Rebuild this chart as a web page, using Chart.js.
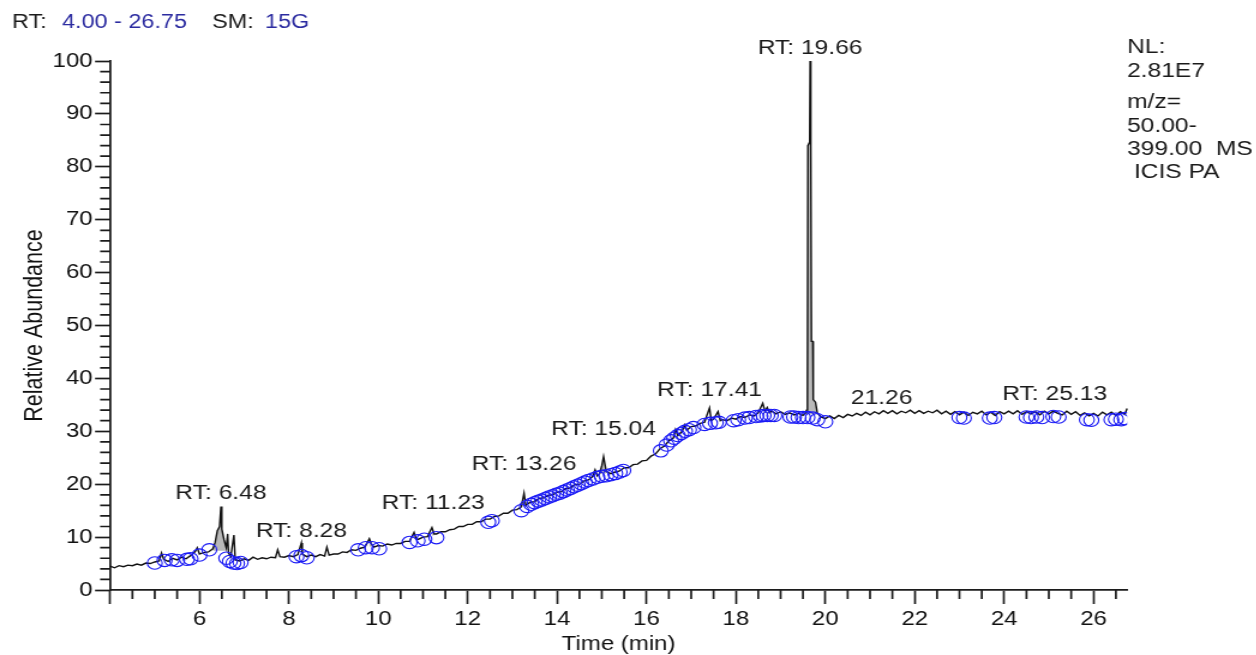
<!DOCTYPE html>
<html>
<head>
<meta charset="utf-8">
<script src="https://cdn.jsdelivr.net/npm/chart.js@4.4.1/dist/chart.umd.min.js"></script>
<style>
  html, body { margin: 0; padding: 0; background: #fff; overflow: hidden; }
  /* the original picture is stretched sideways, so the whole canvas is too */
  #wrap { width: 1047px; height: 655px; transform: scaleX(1.2); transform-origin: 0 0; }
</style>
</head>
<body>
<div id="wrap"><canvas id="chrom" width="1047" height="655"></canvas></div>
<script>
// time (min), relative abundance
var trace = [
  [4.0,4.5],[4.1,4.2],[4.2,4.6],[4.3,4.4],[4.4,4.7],[4.5,4.6],[4.6,4.9],[4.7,4.7],[4.8,5.1],[4.9,5.0],
  [5.0,5.3],[5.1,5.5],[5.15,7.0],[5.2,5.8],[5.3,5.4],[5.4,6.0],[5.5,5.7],[5.6,6.2],[5.7,5.9],[5.8,6.5],
  [5.9,7.2],[5.95,8.0],[6.0,6.8],[6.1,7.1],[6.2,7.2],[6.3,7.8],[6.35,9.0],[6.4,11.2],[6.45,12.0],[6.48,15.8],
  [6.5,11.5],[6.55,9.5],[6.6,8.0],[6.63,10.6],[6.65,7.0],[6.7,6.3],[6.77,10.4],[6.8,5.7],[6.9,5.5],[7.0,5.9],
  [7.1,5.6],[7.2,6.2],[7.3,5.8],[7.4,6.1],[7.5,5.9],[7.6,6.2],[7.7,6.1],[7.75,7.6],[7.8,6.3],[7.9,6.2],
  [8.0,6.5],[8.1,6.3],[8.2,6.7],[8.28,8.9],[8.3,6.8],[8.4,6.3],[8.5,6.6],[8.6,6.3],[8.7,6.7],[8.8,6.4],
  [8.85,8.1],[8.9,6.6],[9.0,6.8],[9.1,6.8],[9.2,7.2],[9.3,7.1],[9.4,7.6],[9.5,7.5],[9.6,7.9],[9.7,8.1],
  [9.8,9.7],[9.85,8.6],[9.9,8.1],[10.0,8.4],[10.1,8.3],[10.2,8.7],[10.3,8.5],[10.4,8.8],[10.5,8.8],[10.6,9.2],
  [10.7,9.2],[10.8,10.9],[10.85,9.6],[10.9,9.6],[11.0,10.0],[11.1,10.1],[11.2,11.8],[11.25,10.6],[11.3,10.6],[11.4,11.0],
  [11.5,11.0],[11.6,11.4],[11.7,11.5],[11.8,12.0],[11.9,12.0],[12.0,12.4],[12.1,12.4],[12.2,12.9],[12.3,12.9],[12.4,13.4],
  [12.5,13.4],[12.6,13.9],[12.7,14.0],[12.8,14.5],[12.9,14.5],[13.0,15.1],[13.1,15.2],[13.2,15.7],[13.26,18.3],[13.3,16.0],
  [13.4,16.6],[13.5,16.7],[13.6,17.3],[13.7,17.4],[13.8,17.9],[13.9,18.0],[14.0,18.5],[14.1,18.6],[14.2,19.2],[14.3,19.3],
  [14.4,19.9],[14.5,20.0],[14.6,20.6],[14.7,20.8],[14.8,21.5],[14.85,22.7],[14.9,21.6],[14.95,22.0],[15.0,23.5],[15.04,25.2],
  [15.1,22.4],[15.2,22.0],[15.3,22.3],[15.4,22.5],[15.5,23.1],[15.6,23.1],[15.7,23.7],[15.8,23.8],[15.9,24.4],[16.0,24.5],
  [16.1,25.3],[16.2,25.7],[16.3,26.7],[16.4,27.2],[16.5,28.2],[16.6,28.7],[16.65,30.3],[16.7,29.2],[16.8,30.0],[16.85,31.2],
  [16.9,30.2],[17.0,30.9],[17.1,31.0],[17.2,31.5],[17.3,31.7],[17.35,33.0],[17.41,34.4],[17.45,32.0],[17.5,32.3],[17.6,33.7],
  [17.65,32.0],[17.7,32.2],[17.8,32.0],[17.9,32.5],[18.0,32.3],[18.1,32.8],[18.2,32.6],[18.3,33.1],[18.4,32.9],[18.5,33.5],
  [18.6,35.3],[18.65,33.8],[18.7,34.5],[18.75,33.5],[18.8,33.8],[18.9,33.3],[19.0,33.7],[19.1,33.2],[19.2,33.5],[19.3,33.1],
  [19.4,33.4],[19.5,33.0],[19.55,33.4],[19.58,34.0],[19.6,36.5],[19.61,84.0],[19.65,84.7],[19.66,100],[19.67,84.5],[19.68,84.0],
  [19.69,47.0],[19.72,47.0],[19.73,36.0],[19.78,35.5],[19.82,33.5],[19.9,32.7],[20.0,32.4],[20.1,32.9],[20.2,32.4],[20.3,33.0],
  [20.4,32.6],[20.5,33.2],[20.6,32.9],[20.7,33.4],[20.8,33.0],[20.9,33.6],[21.0,33.1],[21.1,33.7],[21.2,33.3],[21.3,33.9],
  [21.4,33.4],[21.5,33.9],[21.6,33.3],[21.7,33.8],[21.8,33.5],[21.9,34.0],[22.0,33.4],[22.1,33.9],[22.2,33.4],[22.3,33.8],
  [22.4,33.5],[22.5,34.0],[22.6,33.3],[22.7,33.8],[22.8,33.2],[22.9,33.7],[23.0,33.1],[23.1,33.6],[23.2,33.0],[23.3,33.6],
  [23.4,33.3],[23.5,33.8],[23.6,33.1],[23.7,33.6],[23.8,33.0],[23.9,33.7],[24.0,33.3],[24.1,33.8],[24.2,33.3],[24.3,33.9],
  [24.4,33.2],[24.5,33.7],[24.6,33.3],[24.7,33.7],[24.8,33.1],[24.9,33.8],[25.0,33.3],[25.1,33.8],[25.2,33.4],[25.3,33.1],
  [25.4,33.8],[25.5,33.2],[25.6,33.7],[25.7,33.0],[25.8,33.5],[25.9,32.9],[26.0,33.4],[26.1,32.9],[26.2,33.6],[26.3,33.1],
  [26.4,33.6],[26.5,33.0],[26.6,33.7],[26.7,33.2],[26.75,34.3]
];

// integrated peaks: [start, end, base level]
var peakAreas = [
  [6.30, 6.62, 7.4], [9.75, 9.86, 8.2], [11.15, 11.26, 10.3],
  [14.95, 15.12, 22.0], [17.36, 17.46, 32.0], [19.55, 19.82, 33.2]
];

// detected peak markers (blue circles)
var markers = [
  [5.00,5.1],[5.22,5.6],[5.38,5.7],[5.50,5.6],[5.72,5.8],[5.80,5.9],[6.00,6.6],[6.22,7.6],
  [6.60,6.0],[6.68,5.4],[6.76,5.1],[6.84,5.0],[6.92,5.2],[8.17,6.3],[8.28,6.5],[8.40,6.1],
  [9.55,7.6],[9.72,8.0],[9.86,8.0],[10.02,7.8],[10.70,9.0],[10.88,9.3],[11.03,9.6],[11.30,9.9],
  [12.46,12.8],[12.54,13.1],[13.20,15.0],[13.33,15.8],[13.42,16.2],[13.50,16.5],[13.58,16.8],[13.66,17.0],
  [13.74,17.3],[13.82,17.6],[13.90,17.8],[13.98,18.1],[14.06,18.3],[14.14,18.6],[14.22,18.9],[14.30,19.2],
  [14.38,19.5],[14.46,19.8],[14.54,20.1],[14.62,20.4],[14.70,20.7],[14.80,21.0],[14.90,21.3],[15.00,21.5],
  [15.10,21.6],[15.20,21.8],[15.30,22.0],[15.40,22.3],[15.48,22.6],[16.32,26.3],[16.45,27.4],[16.55,28.2],
  [16.62,28.7],[16.70,29.2],[16.78,29.6],[16.86,30.0],[16.95,30.3],[17.05,30.7],[17.30,31.3],[17.42,31.5],
  [17.55,31.6],[17.62,31.7],[17.95,32.0],[18.05,32.2],[18.20,32.5],[18.30,32.6],[18.45,32.8],[18.55,32.9],
  [18.62,33.0],[18.70,33.0],[18.78,33.0],[18.86,33.0],[19.22,32.7],[19.30,32.7],[19.40,32.6],[19.50,32.6],
  [19.60,32.6],[19.72,32.5],[19.82,32.2],[20.00,31.8],[23.00,32.6],[23.10,32.5],[23.68,32.5],[23.78,32.6],
  [24.50,32.7],[24.60,32.6],[24.72,32.7],[24.85,32.6],[25.10,32.8],[25.22,32.7],[25.85,32.2],[25.95,32.1],
  [26.40,32.2],[26.50,32.3],[26.62,32.2],[26.70,32.4]
];

var rtLabelTimes = [6.48, 8.28, 11.23, 13.26, 15.04, 17.41, 19.66, 21.26, 25.13];
var rtLabelText = ['RT: 6.48', 'RT: 8.28', 'RT: 11.23', 'RT: 13.26', 'RT: 15.04', 'RT: 17.41', 'RT: 19.66', '21.26', 'RT: 25.13'];
var rtLabelHeights = [15.9, 8.7, 14.0, 21.4, 28.0, 35.3, 100, 33.8, 34.6];

var infoLines = ['NL:', '2.81E7', 'm/z=', '50.00-', '399.00  MS', ' ICIS PA'];

function toXY(pairs){
    return pairs.map(function(p){ return {x: p[0], y: p[1]}; });
}

var fillSets = peakAreas.map(function(a){
    return {
        data: toXY(trace.filter(function(p){ return p[0] >= a[0] && p[0] <= a[1]; })),
        borderWidth: 0,
        pointRadius: 0,
        backgroundColor: '#b9b9b9',
        fill: {value: a[2]},
        order: 2
    };
});

var AXIS = '#1c1c1c';
var FONT = "'Liberation Sans', Arial, sans-serif";

// minor ticks, peak labels and the header texts
var decorations = {
    id: 'decorations',
    afterDraw: function(chart){
        var ctx = chart.ctx, xs = chart.scales.x, ys = chart.scales.y;
        ctx.save();
        ctx.strokeStyle = AXIS;
        ctx.lineWidth = 1.7;
        ctx.beginPath();
        for (var t = 4.5; t < 26.75; t += 0.5){
            if (t % 2 === 0) continue;
            var px = xs.getPixelForValue(t);
            ctx.moveTo(px, ys.bottom);
            ctx.lineTo(px, ys.bottom + 9);
        }
        for (var v = 2; v < 100; v += 2){
            if (v % 10 === 0) continue;
            var py = ys.getPixelForValue(v);
            ctx.moveTo(xs.left, py);
            ctx.lineTo(xs.left - 8.3, py);
        }
        ctx.stroke();

        ctx.font = '20.5px ' + FONT;
        ctx.fillStyle = '#1a1a1a';
        ctx.textAlign = 'center';
        ctx.textBaseline = 'alphabetic';
        for (var i = 0; i < rtLabelTimes.length; i++){
            ctx.fillText(rtLabelText[i], xs.getPixelForValue(rtLabelTimes[i]), ys.getPixelForValue(rtLabelHeights[i]) - 7);
        }

        ctx.textAlign = 'left';
        var base = [53, 77, 108, 132, 155, 178];
        for (var j = 0; j < infoLines.length; j++){
            ctx.fillText(infoLines[j], xs.right, base[j]);
        }

        ctx.font = '19.5px ' + FONT;
        ctx.fillStyle = '#1a1a1a';
        ctx.fillText('RT:', 10, 28);
        ctx.fillText('SM:', 176.7, 28);
        ctx.fillStyle = '#2b2ba0';
        ctx.fillText('4.00 - 26.75', 51.7, 28);
        ctx.fillText('15G', 220.8, 28);
        ctx.restore();
    }
};

var ctx = document.getElementById('chrom');
var chart = new Chart(ctx, {
    type: 'line',
    data: {
        datasets: [
            {
                type: 'scatter',
                data: toXY(markers),
                showLine: false,
                pointStyle: 'circle',
                pointRadius: 6.2,
                pointBorderWidth: 1.1,
                pointBorderColor: '#1a1af5',
                pointBackgroundColor: 'rgba(0,0,0,0)',
                order: 0
            },
            {
                data: toXY(trace),
                borderColor: '#111',
                borderWidth: 1.4,
                pointRadius: 0,
                tension: 0,
                fill: false,
                clip: false,
                order: 1
            }
        ].concat(fillSets)
    },
    options: {
        responsive: false,
        animation: false,
        devicePixelRatio: 1,
        layout: {padding: {left: 0, top: 61, right: 107.8, bottom: 0}},
        plugins: {legend: {display: false}, tooltip: {enabled: false}},
        scales: {
            x: {
                type: 'linear',
                min: 4,
                max: 26.75,
                afterFit: function(s){ s.height = 65; },
                border: {display: true, color: AXIS, width: 1.8},
                grid: {drawOnChartArea: false, tickLength: 14, tickWidth: 1.7, tickColor: AXIS},
                ticks: {
                    stepSize: 2,
                    includeBounds: false,
                    autoSkip: false,
                    maxRotation: 0,
                    padding: 3,
                    color: '#111',
                    font: {family: FONT, size: 20},
                    callback: function(v){ return v === 4 ? '' : v; }
                },
                title: {display: true, text: 'Time (min)', color: '#111', font: {family: FONT, size: 20, lineHeight: 1}, padding: {top: 0, bottom: 1}}
            },
            y: {
                min: 0,
                max: 100,
                afterFit: function(s){ s.width = 91.7; },
                border: {display: true, color: AXIS, width: 1.8},
                grid: {drawOnChartArea: false, tickLength: 12.5, tickWidth: 1.7, tickColor: AXIS},
                ticks: {
                    stepSize: 10,
                    padding: 2,
                    color: '#111',
                    font: {family: FONT, size: 20}
                },
                title: {display: true, text: 'Relative Abundance', color: '#111', font: {family: FONT, size: 21.5}, padding: {top: 16, bottom: 0}}
            }
        }
    },
    plugins: [decorations]
});
</script>
</body>
</html>
